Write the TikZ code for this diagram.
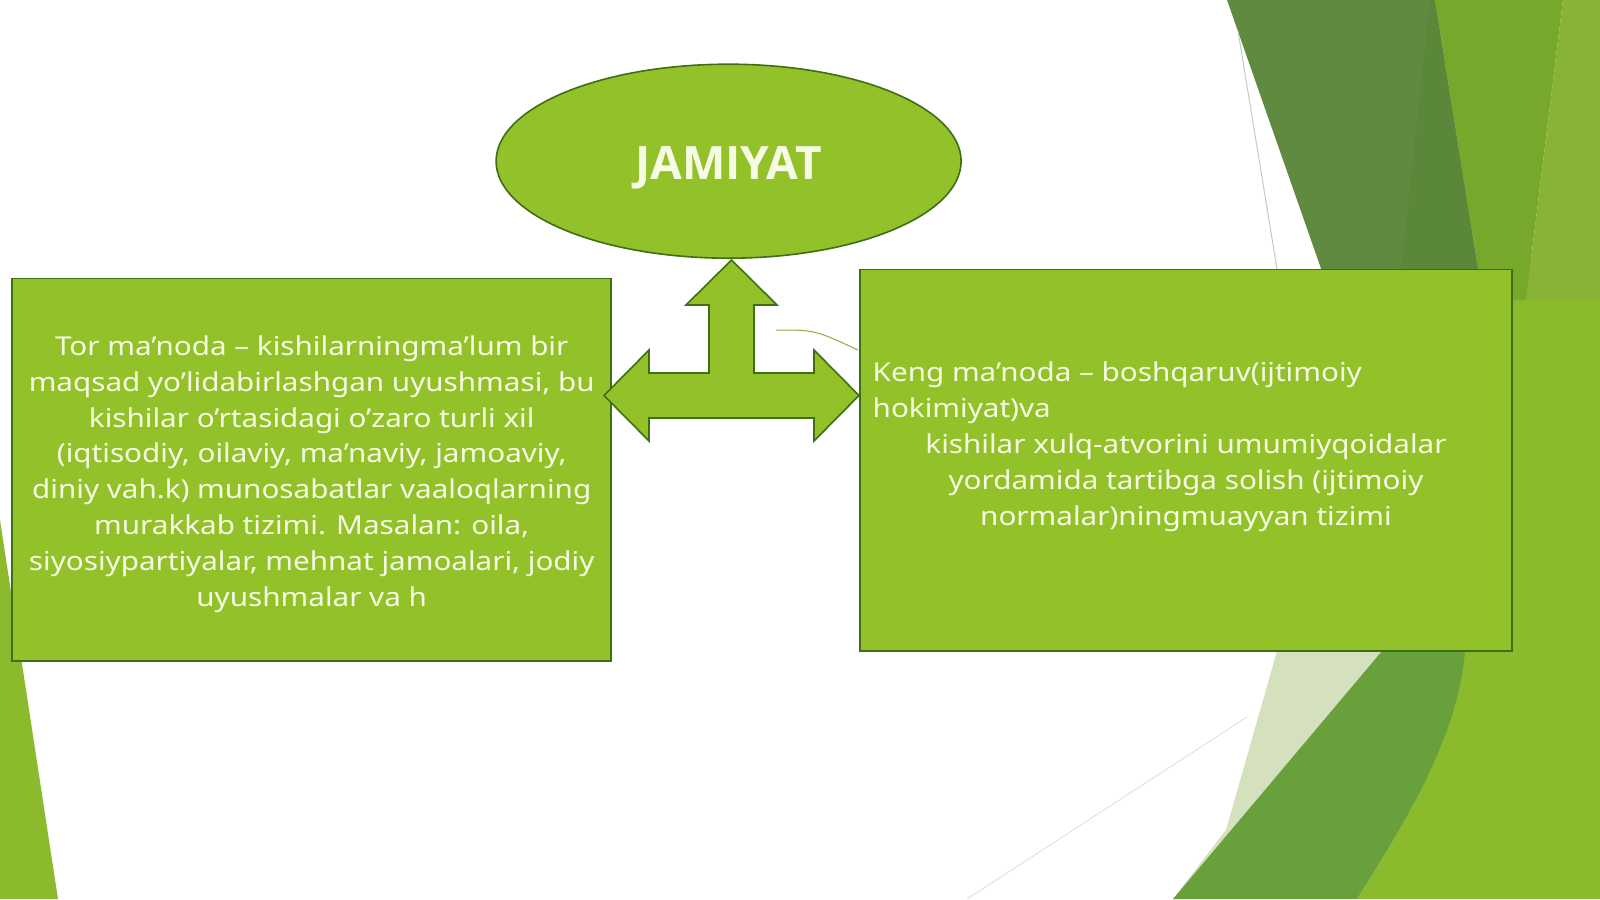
\documentclass[tikz,border=0pt]{standalone}
\usepackage{fontspec}
\setmainfont{Noto Sans}[FakeStretch=1.14]
\newfontfamily\titlefont{Open Sans}
\usetikzlibrary{shapes.geometric}
\definecolor{boxgreen}{HTML}{92C12A}
\definecolor{boxline}{HTML}{3F6E14}
\definecolor{textcream}{HTML}{F6FBE3}
\definecolor{facetdark}{HTML}{5F8A3F}
\definecolor{facetdarker}{HTML}{5B873B}
\definecolor{facetmid}{HTML}{77A72B}
\definecolor{facetlight}{HTML}{88B335}
\definecolor{facetlime}{HTML}{8CBA2D}
\definecolor{facetbottom}{HTML}{68A03B}
\definecolor{facetpale}{HTML}{D5E1BE}
\definecolor{faintgray}{HTML}{C3CABF}
\begin{document}
\begin{tikzpicture}[x=1pt,y=-1pt,
	greenbox/.style={draw=boxline, line width=1.6pt, fill=boxgreen},
	bodytext/.style={text=textcream, inner sep=0pt, font=\fontsize{26}{35.8}\selectfont}]
			% Draw the page and its facets
			\fill[white] (0,0) rectangle (1600,899);
			\useasboundingbox (0,0) rectangle (1600,899);
			\fill[facetlime] (0,520) -- (0,899) -- (58,899) -- cycle;
			\fill[facetlime] (1470,260) rectangle (1600,660);
			\fill[facetdark] (1227,0) -- (1435,0) -- (1483,300) -- (1332,300) -- cycle;
			\fill[facetdarker] (1430,0) -- (1435,0) -- (1483,300) -- (1398,300) -- cycle;
			\fill[facetmid] (1435,0) -- (1563,0) -- (1526,300) -- (1483,300) -- cycle;
			\fill[facetlight] (1563,0) -- (1600,0) -- (1600,300) -- (1526,300) -- cycle;
			\fill[facetlime] (1465,645) -- (1600,645) -- (1600,899) -- (1357,899) .. controls (1400,830) and (1458,740) .. (1465,645) -- cycle;
			\fill[facetpale] (1277,651) -- (1382,651) -- (1173,899) -- (1226,830) -- cycle;
			\fill[facetbottom] (1173,899) -- (1382,651) -- (1465,651) .. controls (1458,740) and (1400,830) .. (1357,899) -- cycle;
			\draw[faintgray, line width=1pt] (1238,31) -- (1277,269);
			\draw[faintgray!60, line width=0.8pt] (967,899) -- (1247,717);
			% Draw the ellipse and the two boxes
			\node[greenbox, ellipse, minimum width=465, minimum height=194, text=textcream, text height=37pt, text depth=0pt, font=\fontsize{46}{50}\titlefont\bfseries] (jamiyat) at (728.6,161.2) {JAMIYAT};
			\node[greenbox, minimum width=599, minimum height=382.6] (tor) at (311.7,469.9) {};
			\node[bodytext, anchor=base, align=center] (tortext) at (311.7,606) {Tor ma’noda – kishilarningma’lum bir\\maqsad yo’lidabirlashgan uyushmasi, bu\\kishilar o’rtasidagi o’zaro turli xil\\(iqtisodiy, oilaviy, ma’naviy, jamoaviy,\\diniy vah.k) munosabatlar vaaloqlarning\\murakkab tizimi. Masalan: oila,\\siyosiypartiyalar, mehnat jamoalari, jodiy\\uyushmalar va h};
			\node[greenbox, minimum width=652, minimum height=381.6] (keng) at (1186.2,460.2) {};
			\node[bodytext, anchor=base west, align=left] (kengtop) at (872.5,417.7) {Keng ma’noda – boshqaruv(ijtimoiy\\hokimiyat)va};
			\node[bodytext, anchor=base, align=center] (kengrest) at (1186,525.5) {kishilar xulq-atvorini umumiyqoidalar\\yordamida tartibga solish (ijtimoiy\\normalar)ningmuayyan tizimi};
			% Draw the three-way arrow
			\draw[greenbox] (731.5,260) -- (777,305) -- (754,305) -- (754,373) -- (814,373) -- (814,350) -- (859,395.5) -- (814,441) -- (814,418) -- (649,418) -- (649,441) -- (604,395.5) -- (649,350) -- (649,373) -- (709,373) -- (709,305) -- (686,305) -- cycle;
			% Thin stray line
			\coordinate (straystart) at (776,330);
			\coordinate (strayend) at (858,350);
			\draw[boxgreen!70!gray, line width=1pt] (straystart) .. controls (815,330) .. (strayend);
		\end{tikzpicture}
\end{document}
